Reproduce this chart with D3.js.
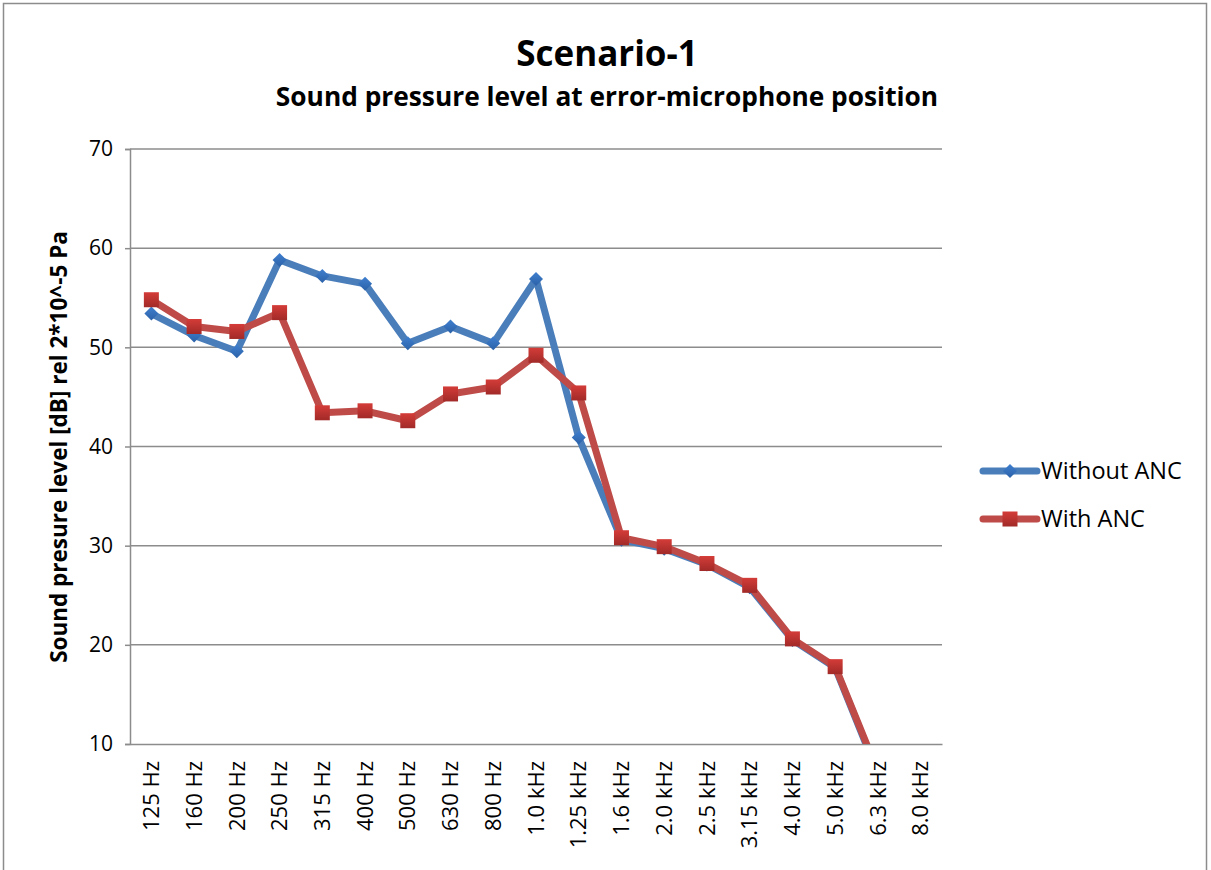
<!DOCTYPE html>
<html>
<head>
<meta charset="utf-8">
<script src="https://cdn.jsdelivr.net/npm/d3@7"></script>
<style>
  body { margin: 0; background: #fff; }
  text { font-family: "Open Sans", "Liberation Sans", sans-serif; }
</style>
</head>
<body>
<script>
// chart data
var categories = ["125 Hz", "160 Hz", "200 Hz", "250 Hz", "315 Hz", "400 Hz", "500 Hz", "630 Hz", "800 Hz",
  "1.0 kHz", "1.25 kHz", "1.6 kHz", "2.0 kHz", "2.5 kHz", "3.15 kHz", "4.0 kHz", "5.0 kHz", "6.3 kHz", "8.0 kHz"];
var withoutANC = [53.4, 51.2, 49.6, 58.8, 57.2, 56.4, 50.4, 52.1, 50.4, 56.9, 40.9, 30.6, 29.7, 28.1, 25.8, 20.5, 17.7, 7.0, null];
var withANC = [54.8, 52.1, 51.6, 53.5, 43.4, 43.6, 42.6, 45.3, 46.0, 49.2, 45.4, 30.8, 29.9, 28.2, 26.0, 20.6, 17.8, 7.2, null];
var yTicks = [10, 20, 30, 40, 50, 60, 70];

var width = 1211, height = 870;
var mLeft = 130, mRight = 942, mTop = 149, mBottom = 744;

var svg = d3.select("body").append("svg")
  .attr("width", width)
  .attr("height", height);

// outer border
svg.append("rect")
  .attr("x", 3.5).attr("y", 3.5)
  .attr("width", 1203).attr("height", 880)
  .attr("fill", "none").attr("stroke", "#8c8c8c").attr("stroke-width", 1.5);

var x = d3.scaleBand().domain(categories).range([mLeft, mRight]);
var y = d3.scaleLinear().domain([10, 70]).range([mBottom, mTop]);

// gridlines
svg.selectAll(".grid").data(yTicks.slice(1)).enter().append("line")
  .attr("x1", mLeft).attr("x2", mRight)
  .attr("y1", function(d){ return y(d); }).attr("y2", function(d){ return y(d); })
  .attr("stroke", "#8c8c8c").attr("stroke-width", 1.5);

// y axis
var yAxis = svg.append("g").attr("transform", "translate(" + mLeft + ",0)")
  .call(d3.axisLeft(y).tickValues(yTicks).tickSize(5).tickPadding(12));
yAxis.select(".domain").attr("stroke", "#8c8c8c").attr("stroke-width", 1.5);
yAxis.selectAll(".tick line").attr("stroke", "#8c8c8c").attr("stroke-width", 1.5);
yAxis.selectAll("text").attr("font-size", 21).attr("fill", "#000")
  .style("font-family", "'Open Sans', sans-serif");

// x axis
var xAxis = svg.append("g").attr("transform", "translate(0," + mBottom + ")")
  .call(d3.axisBottom(x).tickSize(0).tickPadding(0));
xAxis.select(".domain").attr("stroke", "#8c8c8c").attr("stroke-width", 1.5);
xAxis.selectAll("text")
  .attr("font-size", 22).attr("fill", "#000")
  .style("font-family", "'Open Sans', sans-serif")
  .attr("transform", "rotate(-90)")
  .attr("text-anchor", "end")
  .attr("dy", "0.35em")
  .attr("x", -17).attr("y", 0);

// clipping for values below the axis minimum
svg.append("clipPath").attr("id", "plot")
  .append("rect").attr("x", mLeft).attr("y", mTop - 10)
  .attr("width", mRight - mLeft).attr("height", mBottom - mTop + 10);

var defs = svg.append("defs");
var grad = defs.append("linearGradient").attr("id", "redGrad")
  .attr("x1", 0).attr("y1", 0).attr("x2", 0).attr("y2", 1);
grad.append("stop").attr("offset", "0%").attr("stop-color", "#d43c38");
grad.append("stop").attr("offset", "100%").attr("stop-color", "#a12a28");
var bgrad = defs.append("linearGradient").attr("id", "blueGrad")
  .attr("x1", 0).attr("y1", 0).attr("x2", 0).attr("y2", 1);
bgrad.append("stop").attr("offset", "0%").attr("stop-color", "#3f7fcf");
bgrad.append("stop").attr("offset", "100%").attr("stop-color", "#2c62a8");

var cx = function(d, i){ return x(categories[i]) + x.bandwidth() / 2; };

var line = d3.line()
  .defined(function(d){ return d != null; })
  .x(cx)
  .y(function(d){ return y(d); });

var plot = svg.append("g").attr("clip-path", "url(#plot)");

var series = [
  {name: "Without ANC", values: withoutANC, color: "#4a7ebb", marker: "diamond"},
  {name: "With ANC", values: withANC, color: "#be4b48", marker: "square"}
];

function drawMarker(g, type) {
  if (type == "diamond") {
    g.append("path").attr("d", "M0,-7L7,0L0,7L-7,0Z").attr("fill", "url(#blueGrad)");
  } else {
    g.append("rect").attr("x", -7.5).attr("y", -7.5).attr("width", 15).attr("height", 15)
      .attr("fill", "url(#redGrad)");
  }
}

series.forEach(function(s){
  plot.append("path").datum(s.values)
    .attr("d", line)
    .attr("fill", "none")
    .attr("stroke", s.color)
    .attr("stroke-width", 7)
    .attr("stroke-linejoin", "round");
  s.values.forEach(function(v, i){
    if (v == null) return;
    var g = plot.append("g").attr("transform", "translate(" + cx(v, i) + "," + y(v) + ")");
    drawMarker(g, s.marker);
  });
});

// legend
series.forEach(function(s, i){
  var ly = 471 + i * 48;
  svg.append("line")
    .attr("x1", 983).attr("x2", 1037).attr("y1", ly).attr("y2", ly)
    .attr("stroke", s.color).attr("stroke-width", 7).attr("stroke-linecap", "round");
  drawMarker(svg.append("g").attr("transform", "translate(1010," + ly + ")"), s.marker);
  svg.append("text")
    .attr("x", 1041).attr("y", ly + 8)
    .attr("font-size", 23.5)
    .text(s.name);
});

// titles
svg.append("text")
  .attr("x", 607).attr("y", 66)
  .attr("text-anchor", "middle")
  .attr("font-size", 35).attr("font-weight", "bold")
  .text("Scenario-1");
svg.append("text")
  .attr("x", 607).attr("y", 106)
  .attr("text-anchor", "middle")
  .attr("font-size", 26.3).attr("font-weight", "bold")
  .text("Sound pressure level at error-microphone position");

svg.append("text")
  .attr("transform", "translate(67,447) rotate(-90)")
  .attr("text-anchor", "middle")
  .attr("font-size", 22.5).attr("font-weight", "bold")
  .text("Sound presure level [dB] rel 2*10^-5 Pa");
</script>
</body>
</html>
